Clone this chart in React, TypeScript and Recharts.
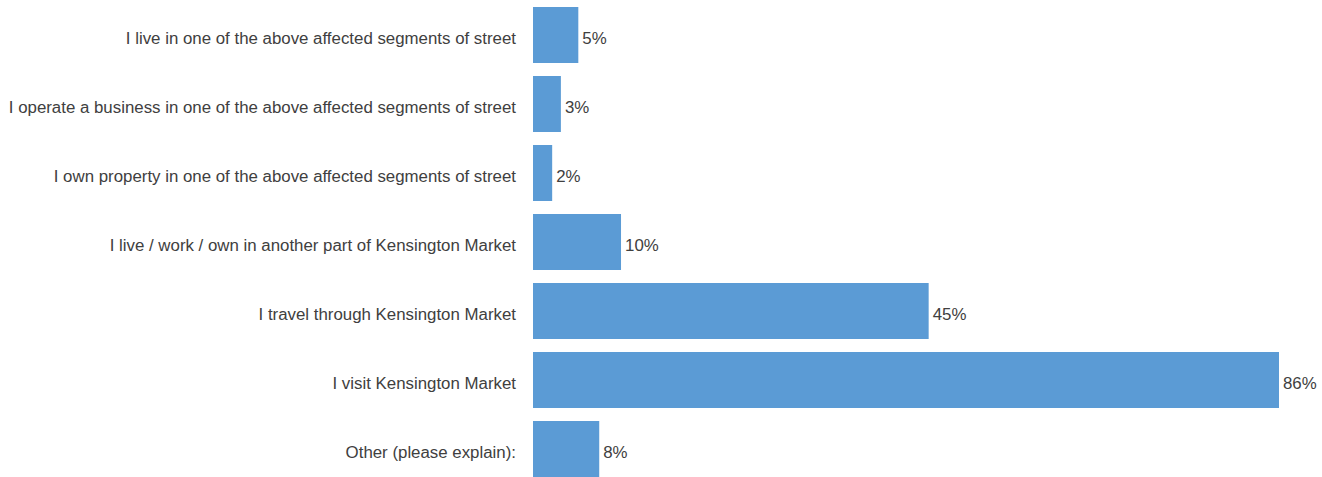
import React from 'react';
import { BarChart, Bar, XAxis, YAxis, LabelList } from 'recharts';

// response categories, top to bottom
const categories = [
  'I live in one of the above affected segments of street',
  'I operate a business in one of the above affected segments of street',
  'I own property in one of the above affected segments of street',
  'I live / work / own in another part of Kensington Market',
  'I travel through Kensington Market',
  'I visit Kensington Market',
  'Other (please explain):',
];

// share of respondents, in percent
const shares = [5.2, 3.2, 2.2, 10.1, 45.4, 85.6, 7.6];

const chartData = categories.map((name, i) => ({ name, share: shares[i] }));

const textColor = '#404040';
const font = '"Liberation Sans", Arial, sans-serif';

export default function App() {
  return (
    <div style={{ position: 'absolute', left: 0, top: 0, background: '#ffffff' }}>
      <BarChart
        width={1322}
        height={483}
        data={chartData}
        layout="vertical"
        margin={{ top: 0, right: 43, bottom: 0, left: 0 }}
      >
        <XAxis type="number" domain={[0, 85.6]} hide />
        <YAxis
          type="category"
          dataKey="name"
          width={533}
          axisLine={false}
          tickLine={false}
          tickSize={0}
          tickMargin={17}
          interval={0}
          tick={{ fill: textColor, fontSize: 16.85, fontFamily: font, dy: 3.5 }}
        />
        <Bar dataKey="share" fill="#5B9BD5" barSize={56} isAnimationActive={false}>
          <LabelList
            dataKey="share"
            position="right"
            offset={4}
            dy={3.5}
            formatter={(v: number) => `${Math.round(v)}%`}
            style={{ fill: textColor, fontSize: 16.85, fontFamily: font }}
          />
        </Bar>
      </BarChart>
    </div>
  );
}
